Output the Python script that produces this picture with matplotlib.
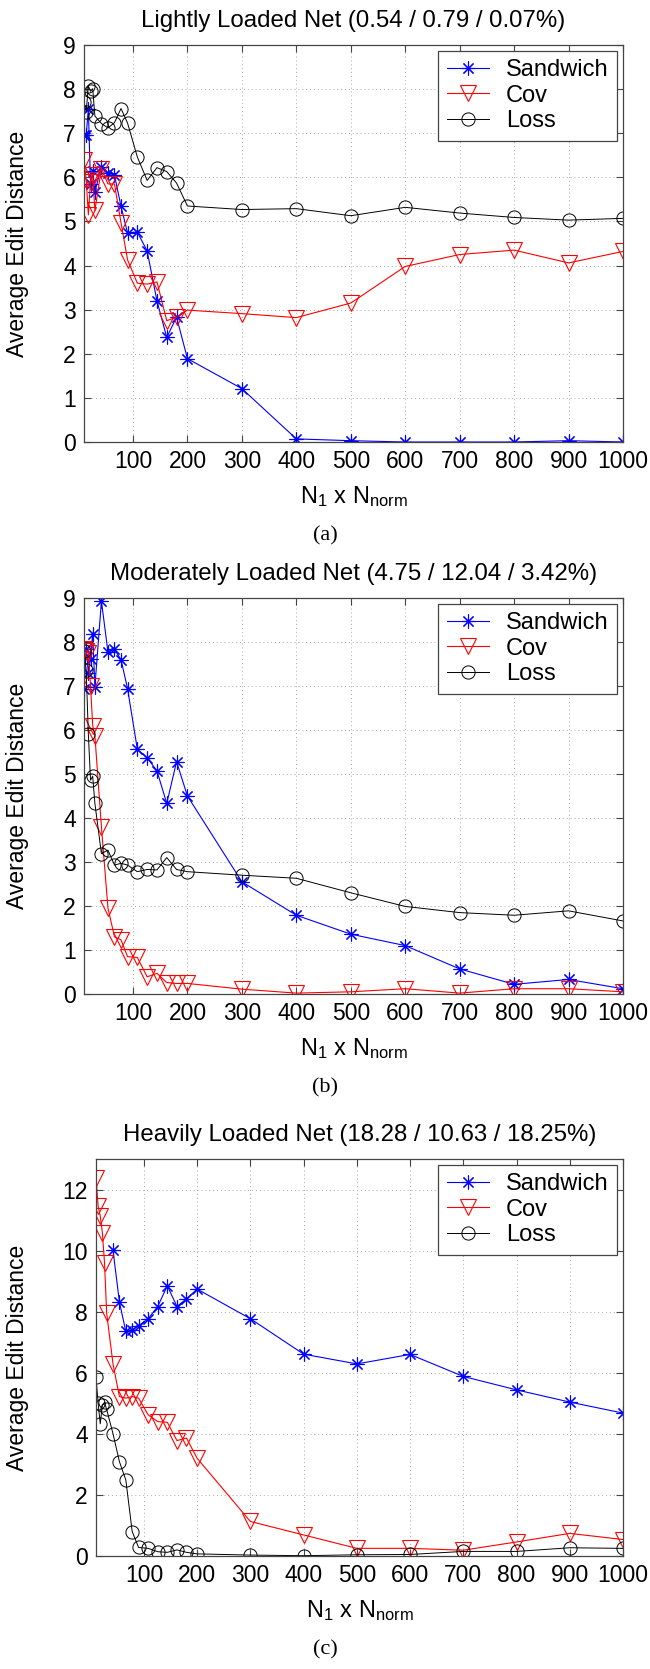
import numpy as np
import matplotlib
matplotlib.use("Agg")
import matplotlib.pyplot as plt

plt.rcParams['font.family'] = ['Liberation Sans', 'DejaVu Sans']
plt.rcParams['mathtext.fontset'] = 'custom'
plt.rcParams['mathtext.rm'] = 'Liberation Sans'
plt.rcParams['mathtext.it'] = 'Liberation Sans'

# --- data ---
X = [10, 14, 18, 22, 26, 30, 42, 54, 66, 78, 90, 108, 126, 144, 162, 180, 200,
     300, 400, 500, 600, 700, 800, 900, 1000]

# (a) lightly loaded
sand_a = [6.95, 6.95, 7.55, 5.85, 6.15, 5.67, 6.24, 6.10, 6.05, 5.34, 4.74, 4.76, 4.33,
          3.20, 2.37, 2.83, 1.89, 1.21, 0.07, 0.03, 0.0, 0.0, 0.0, 0.03, 0.0]
cov_a = [6.40, 5.95, 5.15, 5.90, 6.05, 5.25, 6.20, 5.85, 5.85, 4.97, 4.13, 3.60, 3.58,
         3.63, 2.75, 2.83, 2.99, 2.91, 2.82, 3.15, 3.98, 4.25, 4.35, 4.06, 4.32]
loss_a = [7.71, 7.48, 8.07, 7.95, 8.01, 7.39, 7.22, 7.12, 7.24, 7.56, 7.23, 6.46, 5.93,
          6.22, 6.13, 5.87, 5.35, 5.27, 5.29, 5.13, 5.32, 5.19, 5.09, 5.03, 5.07]

# (b) moderately loaded
sand_b = [6.94, 7.85, 7.30, 7.62, 8.19, 6.98, 8.93, 7.77, 7.83, 7.60, 6.94, 5.56, 5.37,
          5.07, 4.33, 5.28, 4.50, 2.55, 1.79, 1.36, 1.10, 0.57, 0.22, 0.33, 0.12]
cov_b = [7.85, 7.80, 7.75, 7.00, 6.10, 5.87, 3.80, 1.95, 1.30, 1.23, 0.85, 0.83, 0.39,
         0.47, 0.26, 0.24, 0.24, 0.11, 0.02, 0.05, 0.12, 0.02, 0.12, 0.12, 0.05]
loss_b = [7.80, 7.37, 5.90, 4.86, 4.95, 4.33, 3.19, 3.27, 2.93, 2.97, 2.93, 2.78, 2.83,
          2.82, 3.10, 2.83, 2.78, 2.70, 2.63, 2.30, 1.99, 1.85, 1.79, 1.89, 1.66]

# (c) heavily loaded (sandwich starts at 42)
sand_c = [np.nan] * 6 + [10.01, 8.31, 7.36, 7.40, 7.54, 7.77, 8.17, 8.85, 8.17, 8.42,
                         8.74, 7.77, 6.61, 6.29, 6.60, 5.88, 5.44, 5.04, 4.68]
cov_c = [12.38, 11.45, 11.13, 10.58, 9.60, 7.96, 6.28, 5.22, 5.17, 5.22, 5.17, 4.62, 4.40,
         4.38, 3.78, 3.86, 3.20, 1.13, 0.69, 0.25, 0.25, 0.19, 0.46, 0.74, 0.54]
loss_c = [5.85, 5.00, 4.33, 4.95, 5.03, 4.80, 4.00, 3.09, 2.49, 0.80, 0.28, 0.25, 0.14,
          0.12, 0.20, 0.12, 0.07, 0.03, 0.01, 0.04, 0.05, 0.15, 0.15, 0.27, 0.25]

TITLES = ["Lightly Loaded Net (0.54 / 0.79 / 0.07%)",
          "Moderately Loaded Net (4.75 / 12.04 / 3.42%)",
          "Heavily Loaded Net (18.28 / 10.63 / 18.25%)"]
TAGS = ["(a)", "(b)", "(c)"]

W, H = 650, 1669
FS_TICK = 16.5
FS_TITLE = 17.3
FS_LEG = 17
SPINE = '#444444'


def px_axes(fig, left, right, top, bottom):
    return fig.add_axes([left / W, 1 - bottom / H, (right - left) / W, (bottom - top) / H])


def draw_panel(ax, sand, cov, loss, ymax, ystep):
    ax.plot(X, sand, color='#0000ff', lw=0.8, marker=(8, 2, 0), ms=10, mew=0.8,
            label='Sandwich')
    ax.plot(X, cov, color='#ff0000', lw=0.8, marker='v', ms=11, mew=0.8,
            mfc='none', label='Cov')
    ax.plot(X, loss, color='#000000', lw=0.7, marker='o', ms=9.5, mew=0.7,
            mfc='none', label='Loss')

    ax.set_xlim(10, 1000)
    ax.set_ylim(0, ymax)
    ax.set_xticks(np.arange(100, 1001, 100))
    ax.set_yticks(np.arange(0, ymax + 0.01 if ymax == 9 else ymax - 0.5, ystep))
    ax.tick_params(direction='in', top=True, right=True, length=5, width=0.8,
                   color=SPINE, labelsize=FS_TICK, pad=6)
    ax.grid(True, ls=(0, (1, 3)), color='#aaaaaa', lw=0.7)
    for s in ax.spines.values():
        s.set_color(SPINE)
        s.set_linewidth(0.9)

    leg = ax.legend(loc='upper right', bbox_to_anchor=(0.988, 0.985), borderaxespad=0,
                    fontsize=FS_LEG, handlelength=1.8, handletextpad=0.7,
                    labelspacing=0.15, borderpad=0.35, fancybox=False, framealpha=1)
    leg.get_frame().set_edgecolor(SPINE)
    leg.get_frame().set_linewidth(0.9)


fig = plt.figure(figsize=(W / 100, H / 100), dpi=100)

panels = [
    (84, 45, 442, sand_a, cov_a, loss_a, 9, 1),
    (84, 598, 994, sand_b, cov_b, loss_b, 9, 1),
    (96, 1159, 1556, sand_c, cov_c, loss_c, 13, 2),
]

for i, (left, top, bottom, s, c, l, ymax, ystep) in enumerate(panels):
    ax = px_axes(fig, left, 623, top, bottom)
    draw_panel(ax, s, c, l, ymax, ystep)
    cx = (left + 623) / 2 / W
    fig.text(cx, 1 - (top - 24) / H, TITLES[i], ha='center', va='center', fontsize=FS_TITLE)
    fig.text(cx, 1 - (bottom + 55) / H, r'N$_1$ x N$_{\rm norm}$', ha='center',
             va='center', fontsize=FS_LEG)
    fig.text(0.5, 1 - (bottom + 94) / H, TAGS[i], ha='center', va='center', fontsize=16,
             family='Liberation Serif')
    fig.text(18 / W, 1 - (top + bottom) / 2 / H, 'Average Edit Distance', rotation=90,
             ha='center', va='center', fontsize=16.5)

plt.savefig("out.png", dpi=100)
